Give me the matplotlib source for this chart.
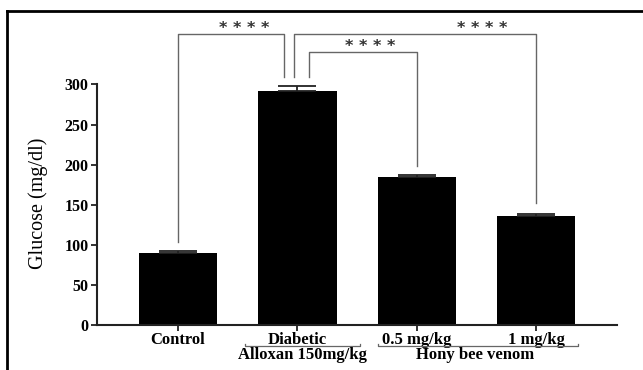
import matplotlib
matplotlib.use("Agg")
import matplotlib.pyplot as plt
from matplotlib.lines import Line2D

categories = ["Control", "Diabetic", "0.5 mg/kg", "1 mg/kg"]
glucose = [90, 292, 184, 136]
sem = [2, 6, 3, 3]
yticks = [0, 50, 100, 150, 200, 250, 300]
ylabel = "Glucose (mg/dl)"
groups = ["Alloxan 150mg/kg", "Hony bee venom"]
group_spans = [(0.56, 1.52), (1.67, 3.35)]
group_text_x = [1.04, 2.49]
# significance brackets: (x_left, x_right, y_top, y_left_end, y_right_end, star_x)
brackets = [
    (0.0, 0.887, 363, 103, 309.5, 0.552),
    (0.97, 3.0, 363, 309.5, 152, 2.544),
    (1.096, 2.0, 341, 309.5, 198, 1.607),
]
star_text = "* * * *"

fig = plt.figure(figsize=(6.43, 3.70), dpi=100)
ax = fig.add_axes([97/643, 1-325/370, (617-97)/643, (325-84.5)/370])

serif = "Liberation Serif"
x = list(range(len(categories)))
ax.bar(x, glucose, width=0.653, color="black", zorder=2)
ax.errorbar(x, glucose, yerr=[[0]*len(sem), sem], fmt="none", ecolor="#222222",
            elinewidth=1.3, capsize=14, capthick=1.3, zorder=3)

ax.set_xlim(-0.678, 3.674)
ax.set_ylim(0, 300)
ax.set_yticks(yticks)
ax.set_yticklabels([str(v) for v in yticks], fontfamily=serif, fontweight="bold", fontsize=11.5)
ax.set_xticks(x)
ax.set_xticklabels(categories, fontfamily=serif, fontweight="bold", fontsize=12)
ax.tick_params(axis="both", direction="out", length=4, width=1.3, color="#222222", pad=2)
ax.tick_params(axis="x", pad=1)
for s in ["top", "right"]:
    ax.spines[s].set_visible(False)
for s in ["left", "bottom"]:
    ax.spines[s].set_linewidth(1.5)
    ax.spines[s].set_color("#222222")
ax.set_ylabel(ylabel, fontfamily=serif, fontsize=14.5, color="black")
ax.yaxis.set_label_coords(-0.095, 0.505)

# significance brackets
for xl, xr, yt, yl, yr, sx in brackets:
    ax.plot([xl, xl, xr, xr], [yl, yt, yt, yr], color="#666666", lw=1.0,
            clip_on=False, zorder=4)
    ax.text(sx, yt - 3, star_text, ha="center", va="bottom", color="#333333",
            fontsize=11.5, fontfamily="DejaVu Sans", fontweight="bold", clip_on=False)

# group brackets under tick labels
tr = ax.get_xaxis_transform()
for (g0, g1), gx, g in zip(group_spans, group_text_x, groups):
    ax.plot([g0, g0, g1, g1], [-0.078, -0.088, -0.088, -0.078], color="#666666",
            lw=0.9, transform=tr, clip_on=False)
    ax.text(gx, -0.090, g, transform=tr, ha="center", va="top", fontfamily=serif,
            fontweight="bold", fontsize=12)

# outer frame
fig.add_artist(Line2D([6.5/643, 6.5/643], [0, 1-11/370], color="black", lw=2,
                      transform=fig.transFigure))
fig.add_artist(Line2D([6.5/643, 1], [1-11/370, 1-11/370], color="black", lw=2,
                      transform=fig.transFigure))

fig.savefig("out.png", dpi=100, facecolor="white")
